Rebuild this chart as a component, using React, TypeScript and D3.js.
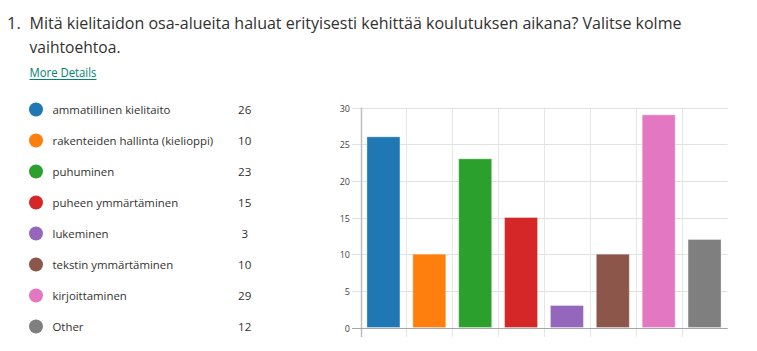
import React from "react";
import * as d3 from "d3";

const categories = [
  "ammatillinen kielitaito",
  "rakenteiden hallinta (kielioppi)",
  "puhuminen",
  "puheen ymmärtäminen",
  "lukeminen",
  "tekstin ymmärtäminen",
  "kirjoittaminen",
  "Other",
];
const values = [26, 10, 23, 15, 3, 10, 29, 12];
const colors = ["#1f77b4", "#ff7f0e", "#2ca02c", "#d62728", "#9467bd", "#8c564b", "#e377c2", "#7f7f7f"];
const yTicks = [0, 5, 10, 15, 20, 25, 30];
const titleNumber = "1.";
const titleLine1 = "Mitä kielitaidon osa-alueita haluat erityisesti kehittää koulutuksen aikana? Valitse kolme";
const titleLine2 = "vaihtoehtoa.";
const linkText = "More Details";

const FONT = "'Segoe UI', 'Open Sans', 'Noto Sans', sans-serif";

export default function App() {
  const W = 757;
  const H = 351;
  const x = d3.scaleBand<string>().domain(categories).range([360.5, 727.5]).padding(0);
  const y = d3.scaleLinear().domain([0, 30]).range([327.5, 107.5]);
  const bw = x.bandwidth();
  const barW = 33;
  const legendY = d3.scaleBand<string>().domain(categories).range([94, 342]);

  return (
    <div style={{ position: "absolute", left: 0, top: 0 }}>
      <svg width={W} height={H} style={{ display: "block", background: "#fff" }} fontFamily={FONT}>
        {/* Title */}
        <text x={7} y={28.5} fontSize={16.5} fill="#323130">{titleNumber}</text>
        <text x={29.5} y={28.5} fontSize={16.5} fill="#323130" textLength={652} lengthAdjust="spacingAndGlyphs">
          {titleLine1}
        </text>
        <text x={29.5} y={52.5} fontSize={16.5} fill="#323130" textLength={91} lengthAdjust="spacingAndGlyphs">{titleLine2}</text>
        <text x={29.5} y={76.5} fontSize={12} fill="#008272" textLength={67} lengthAdjust="spacingAndGlyphs">
          {linkText}
        </text>
        <line x1={29.5} x2={96.5} y1={79.5} y2={79.5} stroke="#008272" strokeWidth={1} />

        {/* Legend */}
        {categories.map((c, i) => {
          const cy = legendY(c)! + legendY.bandwidth() / 2;
          return (
            <g key={c}>
              <circle cx={36} cy={cy} r={7} fill={colors[i]} />
              <text x={52.5} y={cy + 4} fontSize={11.4} fill="#323130">{c}</text>
              <text x={244.7} y={cy + 4} fontSize={11.6} fill="#323130" textAnchor="middle">{values[i]}</text>
            </g>
          );
        })}

        {/* Horizontal grid */}
        {yTicks.map((t) => (
          <g key={t}>
            <line x1={352} x2={727.5} y1={Math.round(y(t)) + 0.5} y2={Math.round(y(t)) + 0.5}
              stroke={t === 0 ? "#a6a6a6" : "#e1e1e1"} strokeWidth={1} />
            <text x={350} y={Math.round(y(t)) + 3.5} fontSize={9} fill="#444" textAnchor="end">{t}</text>
          </g>
        ))}
        {/* Vertical grid */}
        {categories.map((c, i) => (
          <line key={c} x1={Math.round(x(c)!) + 0.5} x2={Math.round(x(c)!) + 0.5} y1={107.5} y2={337}
            stroke={i === 0 ? "#bdbdbd" : "#e6e6e6"} strokeWidth={i === 0 ? 1.5 : 1} />
        ))}

        {/* Bars */}
        {categories.map((c, i) => (
          <rect key={c}
            x={x(c)! + (bw - barW) / 2}
            y={y(values[i])}
            width={barW}
            height={y(0) - y(values[i])}
            fill={colors[i]}
            stroke="#ffffff"
            strokeOpacity={0.35}
            strokeWidth={1}
          />
        ))}
        <line x1={352} x2={727.5} y1={Math.round(y(0)) + 0.5} y2={Math.round(y(0)) + 0.5} stroke="#a6a6a6" strokeWidth={1} />
      </svg>
    </div>
  );
}
